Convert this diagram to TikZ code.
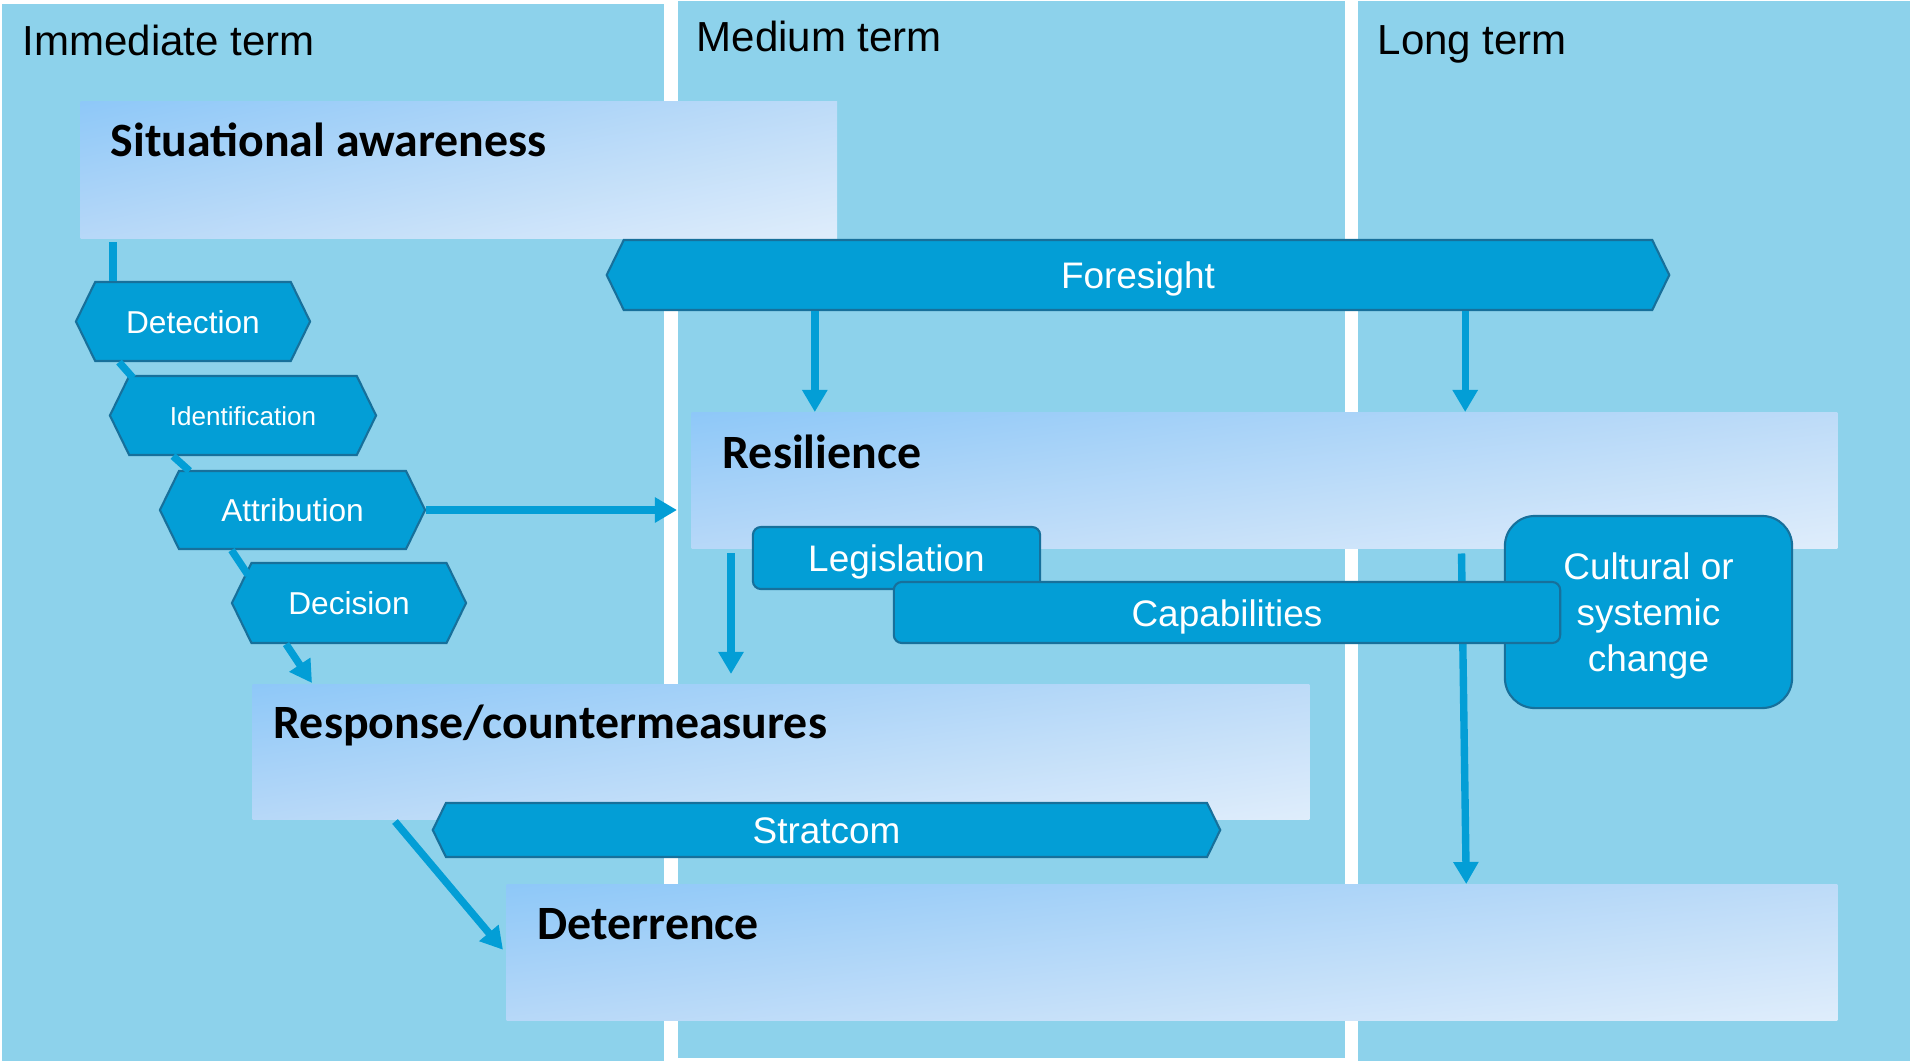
\documentclass[tikz,border=0pt]{standalone}
\usepackage{fontspec}
\setmainfont{Liberation Sans}
\newfontfamily\headfont{Carlito}
\usetikzlibrary{arrows.meta, shapes.symbols, shadings}

\definecolor{colbg}{HTML}{8DD2EB}
\definecolor{hexfill}{HTML}{039ED6}
\definecolor{hexline}{HTML}{17709B}
\definecolor{boxul}{HTML}{8EC8F8}
\definecolor{boxur}{HTML}{BDDBF8}
\definecolor{boxll}{HTML}{B7D8F8}
\definecolor{boxlr}{HTML}{DFEDFB}

\begin{document}
\begin{tikzpicture}[x=0.01cm, y=-0.01cm,
        col/.style = {fill=colbg, inner sep=0, anchor=north west},
        term/.style = {anchor=base west, inner sep=0, font=\fontsize{11.95}{14}\selectfont},
        box/.style = {inner sep=0, anchor=north west, upper left=boxul, upper right=boxur, lower left=boxll, lower right=boxlr},
        head/.style = {anchor=base west, inner sep=0, font=\headfont\bfseries\fontsize{13.6}{16}\selectfont},
        hexa/.style = {shape=signal, signal to=east and west, signal pointer angle=128, draw=hexline, line width=0.6pt, fill=hexfill, text=white, inner sep=0, text height=0.27cm, text depth=0pt, font=\fontsize{10.5}{13}\selectfont},
        stage/.style = {hexa, text height=0.23cm, font=\fontsize{9}{11}\selectfont},
        tagbox/.style = {draw=hexline, line width=0.6pt, fill=hexfill, text=white, rounded corners=0.08cm, inner sep=0, font=\fontsize{10.5}{13.1}\selectfont},
        tag/.style = {tagbox, text height=0.27cm, text depth=0pt},
        link/.style = {draw=hexfill, line width=2.1pt},
        arrow/.style = {link, -{Triangle[length=0.22cm, width=0.24cm]}}]
    \path[use as bounding box, fill=white] (0,0) rectangle (1911,1063);

    \node[col, minimum width=6.62cm, minimum height=10.57cm] (Col1) at (1,3) {};
    \node[col, minimum width=6.67cm, minimum height=10.57cm] (Col2) at (677,0) {};
    \node[col, minimum width=5.52cm, minimum height=10.60cm] (Col3) at (1357,0) {};
    \node[term] (Immediate) at (22,55) {Immediate term};
    \node[term] (Medium) at (696,51) {Medium term};
    \node[term] (Long) at (1377,54) {Long term};

    \node[box, minimum width=7.56cm, minimum height=1.37cm] (Aware) at (80,101) {};
    \node[box, minimum width=11.45cm, minimum height=1.36cm] (Resil) at (691,412) {};
    \node[box, minimum width=10.56cm, minimum height=1.35cm] (Respond) at (252,684) {};
    \node[box, minimum width=13.30cm, minimum height=1.36cm] (Deter) at (506,884) {};
    \node[head] (AwareT) at ([shift={(30,55)}]Aware.north west) {Situational awareness};
    \node[head] (ResilT) at ([shift={(31,56)}]Resil.north west) {Resilience};
    \node[head] (RespondT) at ([shift={(21,54)}]Respond.north west) {Response/countermeasures};
    \node[head] (DeterT) at ([shift={(31,55)}]Deter.north west) {Deterrence};

    \node[hexa, minimum width=10.62cm, minimum height=0.70cm] (Foresight) at (1138,275) {Foresight};
    \node[hexa, minimum width=7.87cm, minimum height=0.54cm] (Stratcom) at (826.5,830) {Stratcom};
    \node[stage, minimum width=2.34cm, minimum height=0.79cm] (Detection) at (193,321.5) {Detection};
    \node[stage, minimum width=2.66cm, minimum height=0.79cm, text height=0.19cm, font=\fontsize{7.4}{9}\selectfont] (Identification) at (243,415.5) {Identification};
    \node[stage, minimum width=2.65cm, minimum height=0.78cm] (Attribution) at (292.5,510) {Attribution};
    \node[stage, minimum width=2.34cm, minimum height=0.80cm] (Decision) at (349,603) {Decision};

    \node[tag, minimum width=2.87cm, minimum height=0.62cm] (Legislation) at (896.5,558) {Legislation};
    \node[tagbox, minimum width=2.87cm, minimum height=1.92cm, rounded corners=0.3cm, align=center, text depth=0pt] (Cultural) at (1648.5,612) {Cultural or\\systemic\\change};

    \draw[link] ([shift={(33,3)}]Aware.south west) -- ([shift={(-80,0)}]Detection.north);
    \draw[link] ([shift={(-74,0)}]Detection.south) -- ([shift={(-110,3)}]Identification.north);
    \draw[link] ([shift={(-70,0)}]Identification.south) -- ([shift={(-103,1)}]Attribution.north);
    \draw[link] ([shift={(-61,0)}]Attribution.south) -- ([shift={(-101,13)}]Decision.north);
    \draw[arrow] ([shift={(-63,0)}]Decision.south) -- ([shift={(60,-1)}]Respond.north west);
    \draw[arrow, shorten >=0.14cm] (Attribution.east) -- (Attribution.east -| Resil.west);

    \coordinate (F1) at ([xshift=-3.23cm]Foresight.south);
    \coordinate (F2) at ([xshift=3.27cm]Foresight.south);
    \draw[arrow] (F1) -- (F1 |- Resil.north);
    \draw[arrow] (F2) -- (F2 |- Resil.north);

    \coordinate (R1) at ([shift={(40,4)}]Resil.south west);
    \draw[arrow, shorten >=0.1cm] (R1) -- (R1 |- Respond.north);
    \draw[arrow] ([shift={(197,4)}]Resil.south) -- ([xshift=2.94cm]Deter.north);
    \draw[arrow] ([shift={(143,1)}]Respond.south west) -- ([shift={(-3,-3)}]Deter.west);

    \node[tag, minimum width=6.66cm, minimum height=0.61cm] (Capabilities) at (1227,612.5) {Capabilities};
\end{tikzpicture}
\end{document}
